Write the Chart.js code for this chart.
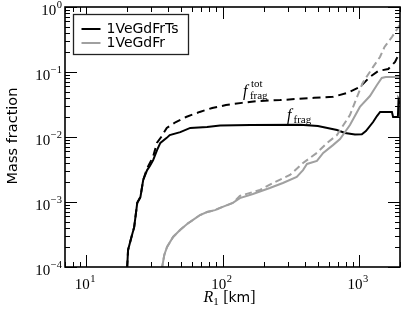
<!DOCTYPE html>
<html><head><meta charset="utf-8">
<script src="https://cdn.jsdelivr.net/npm/chart.js@4.4.0/dist/chart.umd.min.js"></script>
<style>html,body{margin:0;padding:0;background:#fff}canvas{display:block}</style>
</head><body>
<canvas id="c" width="407" height="317"></canvas>
<script>
// ---- data ----
const seriesNames = ['1VeGdFrTs', '1VeGdFr'];
const xLimits = [7, 2000];
const yLimits = [1e-4, 1];
const xDecadeExps = [1, 2, 3];
const yDecadeExps = [-4, -3, -2, -1, 0];

// 1VeGdFrTs, f_frag (black solid)
const tsR = [19.9, 20, 20.3, 21.5, 22.5, 23.7, 25, 26.2, 28, 29.4, 31, 33.1, 35, 39, 41, 49, 58, 77, 96, 160, 370, 500, 690, 790, 935, 1050, 1125, 1270, 1355, 1430, 1745, 1780, 1930, 1950, 1995];
const tsF = [6e-5, 1e-4, 1.83e-4, 2.9e-4, 4.1e-4, 9.7e-4, 1.19e-3, 2.18e-3, 3.1e-3, 3.6e-3, 4.4e-3, 6.3e-3, 8.1e-3, 9.7e-3, 0.0107, 0.0119, 0.0138, 0.0142, 0.015, 0.0153, 0.0154, 0.0148, 0.0128, 0.0115, 0.0109, 0.011, 0.0123, 0.017, 0.021, 0.0243, 0.0243, 0.0203, 0.0203, 0.037, 0.032];
// 1VeGdFrTs, f_frag^tot (black dashed)
const tsTotR = [19.9, 20, 20.3, 21.5, 22.5, 23.7, 25, 26.2, 28, 31, 33, 35.5, 39, 45.5, 54, 68, 84, 106, 139, 185, 264, 350, 470, 645, 816, 1016, 1204, 1390, 1640, 1840, 1995];
const tsTotF = [6e-5, 1e-4, 1.83e-4, 2.9e-4, 4.1e-4, 9.7e-4, 1.19e-3, 2.18e-3, 3.3e-3, 5e-3, 8.1e-3, 0.01, 0.0138, 0.017, 0.0203, 0.0243, 0.028, 0.031, 0.0335, 0.0358, 0.037, 0.0385, 0.04, 0.0415, 0.0475, 0.0588, 0.084, 0.104, 0.111, 0.143, 0.203];
// 1VeGdFr, f_frag (gray solid)
const frR = [35.5, 36.1, 37.4, 39.2, 43.4, 48.8, 55, 60.8, 68.4, 77, 88, 96, 119, 134, 167, 222, 277, 350, 389, 416, 492, 547, 645, 727, 859, 1016, 1204, 1355, 1470, 1570, 1995];
const frF = [6e-5, 1e-4, 1.53e-4, 2.03e-4, 2.9e-4, 3.7e-4, 4.6e-4, 5.3e-4, 6.3e-4, 7.0e-4, 7.5e-4, 8.1e-4, 9.7e-4, 1.15e-3, 1.33e-3, 1.64e-3, 1.96e-3, 2.43e-3, 3.1e-3, 3.85e-3, 4.28e-3, 5.7e-3, 7.5e-3, 9.3e-3, 0.0153, 0.029, 0.0427, 0.063, 0.081, 0.084, 0.084];
// 1VeGdFr, f_frag^tot (gray dashed)
const frTotR = [35.5, 36.1, 37.4, 39.2, 43.4, 48.8, 55, 60.8, 68.4, 77, 88, 96, 119, 134, 188, 234, 312, 389, 492, 583, 690, 859, 967, 1065, 1267, 1426, 1540, 1745, 1995];
const frTotF = [6e-5, 1e-4, 1.53e-4, 2.03e-4, 2.9e-4, 3.7e-4, 4.6e-4, 5.3e-4, 6.3e-4, 7.0e-4, 7.5e-4, 8.1e-4, 9.7e-4, 1.24e-3, 1.53e-3, 1.96e-3, 2.6e-3, 3.98e-3, 5.7e-3, 8.1e-3, 0.0107, 0.0218, 0.041, 0.068, 0.119, 0.17, 0.243, 0.345, 0.53];

// annotation anchors (data coords)
const annTot = {R: 141, f: 0.0428};
const annFrag = {R: 297, f: 0.0183};

const BLACK = '#000000', GRAY = '#a0a0a0';
const pts = (xs, ys) => xs.map((v, i) => ({x: v, y: ys[i]}));

const SERIF = '"Liberation Serif", "DejaVu Serif", serif';
const SANS = '"DejaVu Sans", sans-serif';

function drawPow(ctx, exp, x, baseline, align) {
  const base = '10';
  const sup = (exp < 0 ? '\u2212' : '') + Math.abs(exp);
  ctx.font = '15px ' + SERIF;
  const wb = ctx.measureText(base).width;
  ctx.font = '10.5px ' + SERIF;
  const ws = ctx.measureText(sup).width;
  const total = wb + ws + 0.5;
  let x0 = align === 'right' ? x - total : x - total / 2;
  ctx.textAlign = 'left';
  ctx.textBaseline = 'alphabetic';
  ctx.font = '15px ' + SERIF;
  ctx.fillText(base, x0, baseline);
  ctx.font = '10.5px ' + SERIF;
  ctx.fillText(sup, x0 + wb + 0.5, baseline - 7);
}

const decor = {
  id: 'decor',
  afterDatasetsDraw(chart) {
    const {ctx, chartArea: a, scales: {x, y}} = chart;
    ctx.save();
    ctx.strokeStyle = '#000';
    ctx.fillStyle = '#000';
    ctx.lineWidth = 1;
    const seg = (x1, y1, x2, y2) => { ctx.beginPath(); ctx.moveTo(x1, y1); ctx.lineTo(x2, y2); ctx.stroke(); };
    // x ticks (bottom & top, inside)
    for (let d = 0; d <= 3; d++) for (let m = 1; m <= 9; m++) {
      const v = m * Math.pow(10, d);
      if (v < xLimits[0] || v > xLimits[1]) continue;
      const px = Math.round(x.getPixelForValue(v)) + 0.5;
      const L = m === 1 ? 12 : 5;
      seg(px, a.bottom, px, a.bottom - L);
      seg(px, a.top, px, a.top + L);
    }
    // y ticks (left & right, inside)
    for (let d = -4; d <= 0; d++) for (let m = 1; m <= 9; m++) {
      const v = m * Math.pow(10, d);
      if (v < yLimits[0] || v > yLimits[1] * 1.0001) continue;
      const py = Math.round(y.getPixelForValue(v)) + 0.5;
      const L = m === 1 ? 12 : 5;
      seg(a.left, py, a.left + L, py);
      seg(a.right, py, a.right - L, py);
    }
    // frame
    ctx.lineWidth = 1.6;
    ctx.strokeRect(a.left, a.top, a.right - a.left, a.bottom - a.top);

    // tick labels
    xDecadeExps.forEach(e => drawPow(ctx, e, x.getPixelForValue(Math.pow(10, e)) - 1, a.bottom + 22, 'center'));
    yDecadeExps.forEach(e => drawPow(ctx, e, a.left - 3, y.getPixelForValue(Math.pow(10, e)) + 8, 'right'));

    // y title
    ctx.save();
    ctx.translate(13, (a.top + a.bottom) / 2 - 1);
    ctx.rotate(-Math.PI / 2);
    ctx.font = '14.5px ' + SANS;
    ctx.textAlign = 'center';
    ctx.textBaseline = 'middle';
    ctx.fillText('Mass fraction', 0, 0);
    ctx.restore();

    // x title: R_1 [km]
    {
      ctx.textAlign = 'left'; ctx.textBaseline = 'alphabetic';
      const parts = [
        {t: 'R', f: 'italic 16px ' + SERIF, dy: 0},
        {t: '1', f: '11px ' + SERIF, dy: 3},
        {t: ' ', f: '14px ' + SANS, dy: 0},
        {t: '[', f: '16px ' + SERIF, dy: 0},
        {t: 'km', f: '14px ' + SANS, dy: 0},
        {t: ']', f: '16px ' + SERIF, dy: 0},
      ];
      let w = 0;
      parts.forEach(p => { ctx.font = p.f; p.w = ctx.measureText(p.t).width; w += p.w; });
      let cx = (a.left + a.right) / 2 - 3 - w / 2;
      const bl = 302;
      parts.forEach(p => { ctx.font = p.f; ctx.fillText(p.t, cx, bl + p.dy); cx += p.w; });
    }

    // annotations
    {
      ctx.textAlign = 'left'; ctx.textBaseline = 'alphabetic';
      let fx = x.getPixelForValue(annTot.R), fy = y.getPixelForValue(annTot.f);
      ctx.font = 'italic 16px ' + SERIF; ctx.fillText('f', fx, fy);
      ctx.font = '11px ' + SERIF; ctx.fillText('frag', fx + 7, fy + 3);
      ctx.fillText('tot', fx + 8, fy - 9);
      fx = x.getPixelForValue(annFrag.R); fy = y.getPixelForValue(annFrag.f);
      ctx.font = 'italic 16px ' + SERIF; ctx.fillText('f', fx, fy);
      ctx.font = '11px ' + SERIF; ctx.fillText('frag', fx + 6.5, fy + 3);
    }

    // legend
    {
      const bx = a.left + 8.5, by = a.top + 7.5, bw = 115, bh = 40;
      ctx.fillStyle = '#fff';
      ctx.fillRect(bx, by, bw, bh);
      ctx.strokeStyle = '#222'; ctx.lineWidth = 1.3;
      ctx.strokeRect(bx, by, bw, bh);
      const rows = [{c: BLACK, t: seriesNames[0], yy: by + 14.5}, {c: GRAY, t: seriesNames[1], yy: by + 28.5}];
      rows.forEach(r => {
        ctx.strokeStyle = r.c; ctx.lineWidth = 2;
        seg(bx + 8, r.yy, bx + 27, r.yy);
        ctx.fillStyle = '#000';
        ctx.font = '14px ' + SANS;
        ctx.textBaseline = 'middle';
        ctx.fillText(r.t, bx + 33, r.yy);
      });
    }
    ctx.restore();
  }
};

new Chart(document.getElementById('c'), {
  type: 'line',
  data: {
    datasets: [
      {label: seriesNames[1] + ' tot', data: pts(frTotR, frTotF), borderColor: GRAY, borderWidth: 2, borderDash: [7, 4], pointRadius: 0, fill: false},
      {label: seriesNames[1], data: pts(frR, frF), borderColor: GRAY, borderWidth: 2, pointRadius: 0, fill: false},
      {label: seriesNames[0] + ' tot', data: pts(tsTotR, tsTotF), borderColor: BLACK, borderWidth: 2, borderDash: [8, 5], pointRadius: 0, fill: false},
      {label: seriesNames[0], data: pts(tsR, tsF), borderColor: BLACK, borderWidth: 2, pointRadius: 0, fill: false},
    ]
  },
  options: {
    responsive: false,
    animation: false,
    parsing: true,
    layout: {padding: {left: 65, right: 7, top: 7, bottom: 50}},
    plugins: {legend: {display: false}, tooltip: {enabled: false}},
    scales: {
      x: {type: 'logarithmic', min: xLimits[0], max: xLimits[1], display: false},
      y: {type: 'logarithmic', min: yLimits[0], max: yLimits[1], display: false}
    }
  },
  plugins: [decor]
});
</script>
</body></html>
